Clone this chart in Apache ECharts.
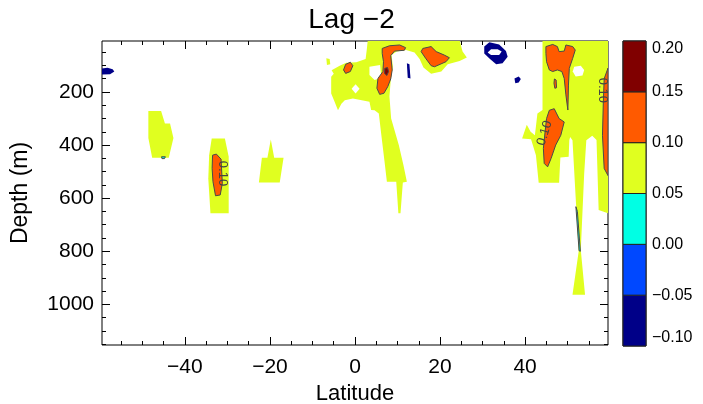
<!doctype html>
<html>
<head>
<meta charset="utf-8">
<title>Lag -2</title>
<script src="https://cdn.jsdelivr.net/npm/echarts@6/dist/echarts.min.js"></script>
</head>
<body style="margin:0;background:#fff;">
<div id="container" style="width:703px;height:404px;"></div>
<script type="text/javascript">
    // contour levels and colour bands (from -0.10 to 0.20)
    var levels = [-0.10, -0.05, 0.00, 0.05, 0.10, 0.15, 0.20];
    var bandColors = ['#000088', '#0048ff', '#00ffe4', '#e0ff20', '#ff5a00', '#800000'];

    // axis ticks
    var latMajor = [-40, -20, 0, 20, 40];
    var latMinor = [-55, -50, -45, -35, -30, -25, -15, -10, -5, 5, 10, 15, 25, 30, 35, 45, 50, 55];
    var depthMajor = [200, 400, 600, 800, 1000];
    var depthMinor = [50, 100, 150, 250, 300, 350, 450, 500, 550, 650, 700, 750, 850, 900, 950, 1050, 1100, 1150];

    // filled contour regions, [latitude, depth]
    var navyFarLeft = [[-59.5,112],[-58.2,109],[-57.0,114],[-56.6,123],[-57.6,133],[-59.5,134]];
    var yellowA = [[-48.6,272],[-45.6,272],[-44.7,319],[-43.5,319],[-42.7,373],[-43.8,448],[-47.7,448],[-48.6,373]];
    var cyanA = [[-45.5,444],[-44.6,444],[-44.8,451],[-45.4,451]];
    var yellowB = [[-33.7,375],[-30.6,375],[-29.7,444],[-29.7,657],[-34.0,657],[-34.5,526],[-34.3,438]];
    var orangeB = [[-33.5,438],[-32.6,434],[-31.5,453],[-31.2,544],[-31.7,588],[-32.8,591],[-33.4,538],[-33.6,488]];
    var yellowC = [[-19.8,379],[-19.0,448],[-16.8,448],[-17.7,541],[-22.6,541],[-21.9,448],[-20.6,448]];

    var yellowBit = [[-6.75,73],[-5.96,76],[-5.81,96],[-6.59,98]];
    var yellowCentral = [[3.0,5],[15.2,5],[24.6,5],[25.3,48],[26.3,70],[24.6,83],[21.8,96],[20.3,123],[17.9,131],
        [16.1,108],[15.2,76],[14.0,51],[12.0,42],[9.8,48],[8.6,61],[8.9,105],[8.4,155],[8.1,217],[8.5,300],
        [10.3,400],[11.4,476],[12.2,538],[11.25,541],[10.7,657],[10.2,657],[9.7,538],[7.5,538],[6.95,463],
        [6.2,363],[5.6,281],[4.6,269],[3.8,268],[3.4,237],[-0.5,225],[-2.4,231],[-3.2,244],[-4.0,269],
        [-4.8,237],[-5.6,206],[-5.6,143],[-5.0,131],[-5.5,118],[-3.6,101],[-2.05,90],[0.3,88],[2.5,76],[2.8,36]];
    var holeNotch = [[3.4,105],[5.9,98],[6.2,146],[4.6,155],[3.4,136]];
    var holeDiamond = [[0.14,171],[1.08,188],[0.14,206],[-0.8,188]];
    var orangeSmallLeft = [[-2.2,96],[-1.1,88],[-0.5,101],[-1.1,123],[-2.2,130],[-2.7,117]];
    var orangeColumn = [[6.4,36],[8.1,26],[10.5,23],[11.9,33],[11.6,43],[9.3,46],[8.4,63],[8.75,117],[8.4,151],
        [7.7,180],[6.8,205],[5.8,209],[5.15,186],[5.4,149],[6.56,123],[6.7,86],[6.4,55]];
    var redCore = [[7.0,111],[7.65,108],[7.9,123],[7.5,138],[6.95,130]];
    var orangeTop = [[15.95,36],[17.9,29],[19.1,48],[21.0,61],[22.2,71],[21.4,86],[18.7,105],[17.9,101],[16.6,73],[15.55,48]];
    var navyBar = [[12.2,92],[12.8,96],[13.05,149],[12.4,146]];

    var navyRing = [[30.4,29],[31.6,13],[33.9,21],[35.5,46],[35.9,67],[34.7,92],[33.2,96],[31.75,76],[30.4,55]];
    var holeRing = [[31.2,51],[32.0,39],[33.55,39],[34.5,48],[33.9,61],[32.0,61]];
    var navySmall = [[37.5,149],[38.5,142],[39.0,151],[38.5,164],[37.7,167]];

    var yellowNorth = [[44.1,5],[59.5,5],[59.5,657],[57.3,645],[56.8,381],[55.8,365],[54.4,382],[53.9,507],[53.1,795],
        [54.1,964],[51.15,964],[52.6,801],[51.8,570],[51.15,382],[50.6,370],[50.4,382],[50.25,444],[48.3,447],
        [48.0,542],[43.2,542],[42.55,438],[41.4,378],[39.3,375],[40.4,323],[41.3,350],[42.3,363],[42.55,330],
        [42.9,281],[44.1,268]];
    var holeNorth = [[51.55,105],[53.1,101],[53.9,117],[53.5,138],[51.9,142],[51.2,123]];
    var orangeNorthTop = [[44.9,29],[46.5,21],[47.6,29],[48.0,48],[49.2,46],[49.6,23],[51.2,29],[51.8,42],[51.2,73],
        [50.4,111],[50.2,174],[50.06,268],[49.6,211],[49.2,149],[48.65,123],[47.6,117],[46.5,123],[45.7,117],
        [45.05,86],[44.9,55]];
    var orangeNorthBit = [[46.9,151],[47.3,155],[47.4,184],[47.0,186],[46.8,167]];
    var orangeNorthMid = [[45.7,269],[46.85,263],[48.0,300],[49.2,313],[48.4,363],[47.2,400],[46.1,451],[45.3,482],
        [44.5,469],[44.3,413],[44.7,350],[45.05,300]];
    var orangeEdge = [[58.6,150],[59.5,110],[59.5,515],[58.6,488],[58.2,363],[58.4,238]];
    var cyanSliver = [[51.95,632],[52.3,650],[53.0,800],[52.7,798]];

    // contour labels: [latitude, depth, text]
    var contourLabels = [[-31.2, 507, '0.10'], [44.6, 355, '0.10'], [58.2, 194, '0.10']];
    var contourLabelAngles = [-90, 73, -90];

    // band -1 = masked (white)
    var regions = [
        { band: 0, pts: navyFarLeft },
        { band: 3, pts: yellowA },
        { band: 2, pts: cyanA },
        { band: 3, pts: yellowB },
        { band: 4, pts: orangeB },
        { band: 3, pts: yellowC },
        { band: 3, pts: yellowBit },
        { band: 3, pts: yellowCentral },
        { band: -1, pts: holeNotch },
        { band: -1, pts: holeDiamond },
        { band: 4, pts: orangeSmallLeft },
        { band: 4, pts: orangeColumn },
        { band: 5, pts: redCore },
        { band: 4, pts: orangeTop },
        { band: 0, pts: navyBar },
        { band: 0, pts: navyRing },
        { band: -1, pts: holeRing },
        { band: 0, pts: navySmall },
        { band: 3, pts: yellowNorth },
        { band: -1, pts: holeNorth },
        { band: 4, pts: orangeNorthTop },
        { band: 4, pts: orangeNorthBit },
        { band: 4, pts: orangeNorthMid },
        { band: 4, pts: orangeEdge },
        { band: 2, pts: cyanSliver }
    ];

    var FONT = 'Liberation Sans';
    var LAT_MIN = -59.5, LAT_MAX = 59.5, DEP_MIN = 8, DEP_MAX = 1153;

    function minusFmt(v) {
        return (v < 0 ? '\u2212' : '') + Math.abs(v);
    }

    function tickAxis(extra) {
        var a = {
            type: 'value',
            gridIndex: 0,
            axisLine: { show: false, onZero: false },
            splitLine: { show: false },
            axisLabel: { show: false },
            axisTick: { show: true, inside: true, length: 8, lineStyle: { color: '#000', width: 1 } }
        };
        for (var k in extra) a[k] = extra[k];
        return a;
    }

    var xAxes = [
        tickAxis({ min: LAT_MIN, max: LAT_MAX, position: 'bottom',
            axisTick: { show: true, inside: true, length: 8, customValues: latMajor, lineStyle: { color: '#000' } },
            axisLabel: { show: true, customValues: latMajor, formatter: minusFmt, fontSize: 21, margin: 12, color: '#000', fontFamily: FONT },
            name: 'Latitude', nameLocation: 'middle', nameGap: 36,
            nameTextStyle: { fontSize: 22, color: '#000', fontFamily: FONT } }),
        tickAxis({ min: LAT_MIN, max: LAT_MAX, position: 'bottom',
            axisTick: { show: true, inside: true, length: 4, customValues: latMinor, lineStyle: { color: '#000' } } }),
        tickAxis({ min: LAT_MIN, max: LAT_MAX, position: 'top',
            axisTick: { show: true, inside: true, length: 8, customValues: latMajor, lineStyle: { color: '#000' } } }),
        tickAxis({ min: LAT_MIN, max: LAT_MAX, position: 'top',
            axisTick: { show: true, inside: true, length: 4, customValues: latMinor, lineStyle: { color: '#000' } } }),
        { type: 'value', gridIndex: 1, min: 0, max: 1, show: false }
    ];
    var yAxes = [
        tickAxis({ min: DEP_MIN, max: DEP_MAX, inverse: true, position: 'left',
            axisTick: { show: true, inside: true, length: 8, customValues: depthMajor, lineStyle: { color: '#000' } },
            axisLabel: { show: true, customValues: depthMajor, fontSize: 21, margin: 8, color: '#000', fontFamily: FONT,
                formatter: function (v) { return String(v); } },
            name: 'Depth (m)', nameLocation: 'middle', nameGap: 70, nameRotate: 90,
            nameTextStyle: { fontSize: 23, color: '#000', fontFamily: FONT } }),
        tickAxis({ min: DEP_MIN, max: DEP_MAX, inverse: true, position: 'left',
            axisTick: { show: true, inside: true, length: 4, customValues: depthMinor, lineStyle: { color: '#000' } } }),
        tickAxis({ min: DEP_MIN, max: DEP_MAX, inverse: true, position: 'right',
            axisTick: { show: true, inside: true, length: 8, customValues: depthMajor, lineStyle: { color: '#000' } } }),
        tickAxis({ min: DEP_MIN, max: DEP_MAX, inverse: true, position: 'right',
            axisTick: { show: true, inside: true, length: 4, customValues: depthMinor, lineStyle: { color: '#000' } } }),
        { type: 'value', gridIndex: 1, min: levels[0], max: levels[levels.length - 1], interval: 0.05,
          position: 'right', axisLine: { show: false, onZero: false }, axisTick: { show: false }, splitLine: { show: false },
          axisLabel: { fontSize: 16, margin: 6, color: '#000', fontFamily: FONT,
              verticalAlignMinLabel: 'bottom', verticalAlignMaxLabel: 'top',
              formatter: function (v) { return (v < -1e-9 ? '\u2212' : '') + Math.abs(v).toFixed(2); } } }
    ];

    var option = {
        animation: false,
        backgroundColor: '#fff',
        title: {
            text: 'Lag \u22122', left: 'center', top: 1,
            textStyle: { fontSize: 28, fontWeight: 'normal', color: '#000', fontFamily: FONT }
        },
        grid: [
            { left: 102, right: 95, top: 41, bottom: 59, show: true, borderColor: '#000', borderWidth: 1,
              backgroundColor: 'transparent', outerBoundsMode: 'none' },
            { left: 623, top: 41, width: 23, height: 305, show: true, borderColor: '#000', borderWidth: 1,
              backgroundColor: 'transparent', outerBoundsMode: 'none' }
        ],
        xAxis: xAxes,
        yAxis: yAxes,
        series: [
            {
                type: 'custom',
                xAxisIndex: 0, yAxisIndex: 0,
                clip: true, silent: true, z: 1,
                data: regions.map(function (r, i) { return [r.pts[0][0], r.pts[0][1], i]; }),
                renderItem: function (params, api) {
                    var r = regions[api.value(2)];
                    var pts = r.pts.map(function (p) { return api.coord(p); });
                    var outlined = r.band === 2 || r.band === 4 || r.band === 5;
                    return {
                        type: 'polygon',
                        shape: { points: pts },
                        style: {
                            fill: r.band < 0 ? '#fff' : bandColors[r.band],
                            stroke: outlined ? '#4a4a4a' : null,
                            lineWidth: outlined ? 1 : 0
                        }
                    };
                }
            },
            {
                type: 'custom',
                xAxisIndex: 0, yAxisIndex: 0,
                clip: true, silent: true, z: 2,
                data: contourLabels.map(function (c, i) { return [c[0], c[1], i]; }),
                renderItem: function (params, api) {
                    var i = api.value(2);
                    var p = api.coord([contourLabels[i][0], contourLabels[i][1]]);
                    return {
                        type: 'text',
                        x: p[0], y: p[1],
                        rotation: contourLabelAngles[i] * Math.PI / 180,
                        style: {
                            text: contourLabels[i][2], fill: '#444',
                            fontSize: 13, fontFamily: FONT,
                            align: 'center', verticalAlign: 'middle'
                        }
                    };
                }
            },
            {
                type: 'custom',
                xAxisIndex: 4, yAxisIndex: 4,
                silent: true,
                data: bandColors.map(function (c, i) { return [0, levels[i], levels[i + 1], i]; }),
                renderItem: function (params, api) {
                    var a = api.coord([0, api.value(1)]);
                    var b = api.coord([1, api.value(2)]);
                    return {
                        type: 'rect',
                        shape: { x: a[0], y: b[1], width: b[0] - a[0], height: a[1] - b[1] },
                        style: { fill: bandColors[api.value(3)], stroke: '#222', lineWidth: 1 }
                    };
                }
            }
        ]
    };

    var myChart = echarts.init(document.getElementById('container'));
    myChart.setOption(option);
</script>
</body>
</html>
